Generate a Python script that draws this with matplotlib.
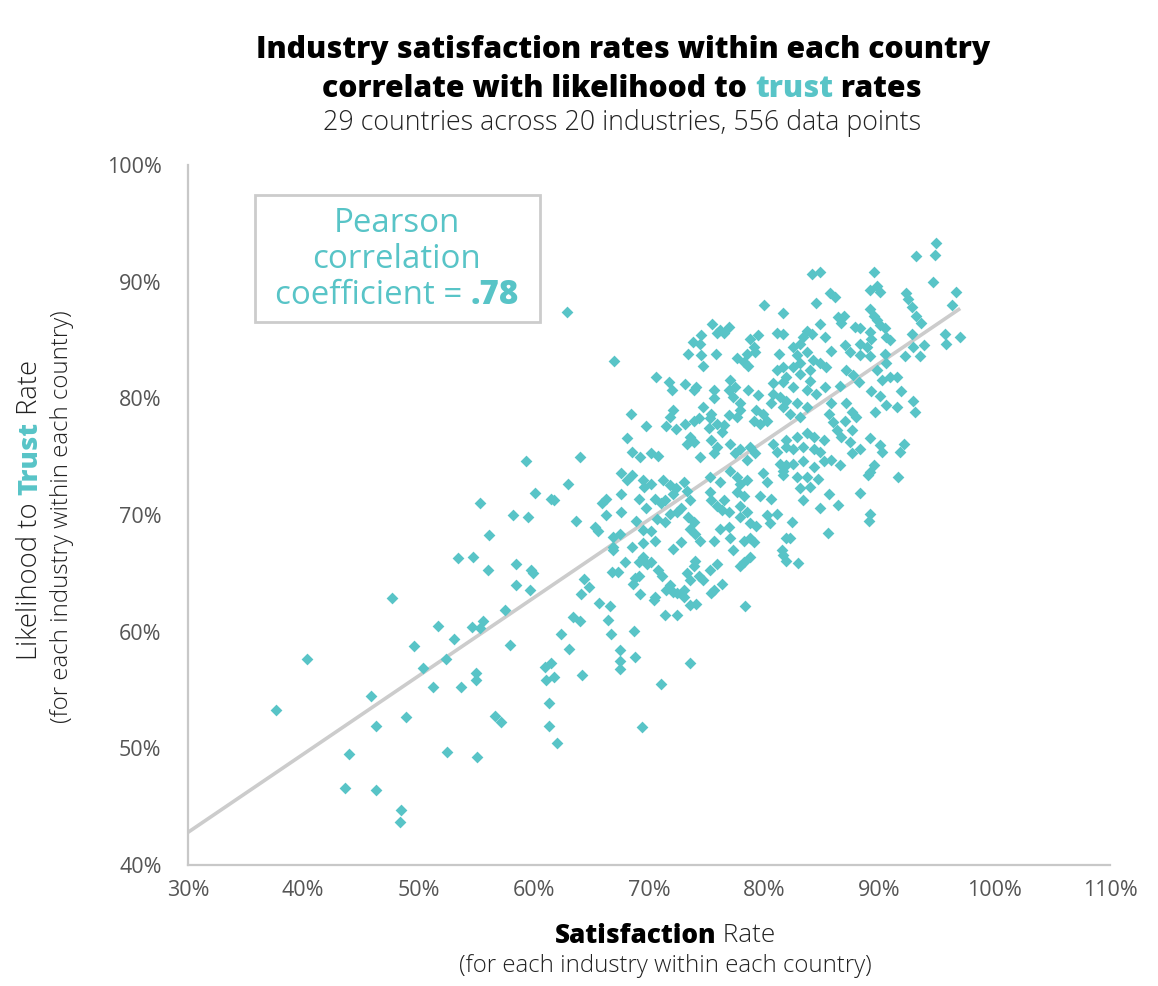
import matplotlib
matplotlib.use("Agg")
import matplotlib.pyplot as plt
from matplotlib.patches import Rectangle

# ---------------- data ----------------
sat = [
    # sparse lower-left region
    47.7, 40.3, 37.6, 51.7, 49.6, 53.1, 54.6, 55.6, 55.3, 56.0, 53.4, 54.7, 52.4, 50.4, 55.0,
    55.0, 51.3, 53.7, 45.9, 56.6, 46.3, 48.9, 44.0, 52.5, 55.1, 43.6, 46.3, 48.5, 48.4,
    # 55-70 upper
    62.9, 67.0, 68.4, 69.7, 68.1, 68.5, 69.2, 64.0, 59.3, 67.6, 68.5, 68.1, 69.5, 63.0, 60.1,
    61.5, 61.8, 55.3, 58.2, 59.5, 56.1, 67.6, 65.9, 66.3, 66.3, 67.6, 69.1, 68.9, 69.7, 63.7,
    65.3, 65.6, 66.9, 67.5, 66.9, 68.5, 69.5,
    # 55-70 lower
    58.5, 59.8, 59.9, 58.5, 59.7, 57.5, 57.9, 66.9, 67.9, 69.1, 69.8, 66.8, 67.3, 68.8, 69.1,
    68.6, 64.4, 64.8, 64.1, 65.7, 66.6, 69.2, 63.4, 64.0, 66.4, 62.4, 66.7, 68.7, 63.1, 67.5,
    68.8, 67.5, 67.5, 61.0, 61.5, 61.1, 61.8, 64.2, 61.3, 57.2, 61.3, 62.0, 69.4,
    # 70-82 upper
    80.0, 81.6, 75.5, 76.2, 76.9, 76.5, 75.9, 74.5, 73.8, 74.4, 73.4, 74.5, 74.7, 75.8, 78.8,
    79.5, 79.1, 78.5, 77.6, 78.2, 78.6, 79.2, 81.1, 81.6, 81.3, 81.6, 81.1, 70.6, 71.7, 72.0,
    73.1, 73.9, 74.1, 75.6, 75.6, 77.0, 77.5, 76.9, 77.3, 77.9, 77.9, 77.6, 78.6, 79.5, 80.8,
    81.6, 80.8, 81.4, 80.6, 81.6, 79.3, 79.9, 79.1, 79.6, 80.2, 74.7, 75.4, 72.1, 71.8, 71.5,
    72.3, 73.1, 73.9, 74.3, 75.3, 75.9, 75.2, 76.5, 76.9, 76.3, 73.6, 73.9, 73.3, 75.4, 75.9,
    75.6, 77.0, 77.9, 77.5, 78.8, 79.2, 80.8, 81.1, 81.9, 70.2, 70.8, 74.4,
    # 70-82 middle
    78.5, 81.4, 70.2, 69.6, 71.2, 71.8, 72.3, 72.1, 73.0, 73.3, 73.6, 75.3, 76.2, 77.0, 77.6,
    77.9, 78.5, 77.6, 78.2, 77.9, 79.9, 80.2, 79.6, 80.6, 81.9, 81.6, 70.5, 71.0, 71.4, 71.8,
    72.4, 71.4, 70.7, 72.8, 73.4, 73.9, 73.6, 74.0, 74.4, 75.3, 75.4, 75.9, 76.5, 76.3, 76.9,
    76.2, 76.9, 78.5, 78.8, 79.3, 77.9, 80.2, 80.5, 81.1, 81.9, 69.5, 70.2, 70.5, 72.1, 72.8,
    75.6, 77.0, 77.3, 78.2, 78.8, 79.1, 81.5, 81.9, 78.2, 78.8, 77.9, 75.9, 74.0, 73.9, 69.5,
    70.2, 70.8, 71.1, 73.3, 73.6, 74.3, 74.7, 75.3, 76.3, 75.6, 71.8, 71.5, 72.4, 73.0, 70.5,
    # 70-80 lower
    70.4, 72.1, 73.0, 73.6, 74.1, 71.4, 72.4, 75.4, 78.3, 73.6, 71.0,
    # 82-97 upper
    94.9, 94.8, 93.2, 94.6, 96.6, 96.3, 89.5, 84.1, 84.8, 89.2, 89.8, 90.0, 85.7, 86.1, 84.5,
    92.3, 92.5, 92.8, 93.2, 93.6, 89.2, 89.5, 89.8, 86.4, 86.9, 86.7, 84.8, 87.9, 88.3, 90.0,
    90.5, 83.7, 84.1, 83.4, 85.3, 89.2, 89.3, 90.6, 90.9, 92.8, 95.7, 97.0, 95.8, 93.9, 92.9,
    82.5, 83.1, 83.7, 82.8, 85.8, 87.0, 87.4, 88.3, 88.9, 88.3, 89.2, 90.5, 92.2, 93.5, 84.2,
    84.8, 85.4, 84.0, 83.1, 82.5, 87.1, 87.7, 89.8, 90.6, 90.9, 91.5,
    # 82-93 middle
    81.9, 83.1, 84.0, 82.5, 83.7, 84.5, 85.3, 86.6, 88.2, 90.2, 91.9, 92.9, 93.1, 91.5, 90.6,
    89.3, 90.0, 89.6, 81.9, 82.8, 83.7, 82.2, 83.1, 85.8, 85.6, 87.1, 87.6, 88.0, 87.0, 86.0,
    86.3, 86.7, 87.6, 87.4, 88.3, 87.6, 89.2, 90.0, 90.2, 92.1, 91.8, 81.9, 82.8, 83.7, 84.3,
    82.5, 83.4, 84.3, 85.2, 84.8, 82.5, 83.4, 84.3, 85.2, 85.8, 86.6, 89.5, 89.0, 89.2, 91.6,
    81.6, 82.8, 83.7, 84.7, 83.1, 84.0, 85.6, 88.3,
    # 81-90 lower
    83.4, 84.8, 86.4, 89.2, 89.1, 82.4, 85.5, 82.2, 81.6, 82.9,
]
trust = [
    62.9, 57.7, 53.3, 60.5, 58.8, 59.4, 60.4, 60.9, 60.3, 65.3, 66.3, 66.4, 57.7, 56.9, 56.5,
    55.9, 55.3, 55.3, 54.5, 52.8, 51.9, 52.7, 49.5, 49.7, 49.3, 46.6, 46.4, 44.7, 43.7,
    87.4, 83.2, 78.7, 77.6, 76.6, 75.4, 75.0, 75.0, 74.6, 73.6, 73.4, 73.0, 73.0, 72.7, 71.9,
    71.4, 71.3, 71.0, 70.0, 69.8, 68.3, 71.8, 71.0, 71.4, 70.0, 70.3, 71.4, 69.5, 70.6, 69.5,
    69.0, 68.6, 68.1, 68.4, 67.3, 67.3, 67.6,
    65.8, 65.3, 65.0, 64.0, 63.6, 61.9, 58.9, 67.0, 66.0, 66.0, 65.8, 65.1, 65.1, 64.6, 64.8,
    64.1, 64.5, 63.8, 63.2, 62.5, 62.2, 63.2, 61.3, 60.9, 61.0, 59.8, 59.8, 60.1, 58.5, 58.4,
    57.8, 57.5, 56.8, 57.0, 57.3, 55.9, 56.1, 56.3, 53.9, 52.3, 51.9, 50.5, 51.8,
    88.0, 87.3, 86.4, 85.9, 86.1, 85.6, 85.6, 85.4, 84.8, 84.7, 83.8, 83.7, 82.8, 83.8, 85.1,
    85.4, 84.4, 83.8, 83.5, 83.1, 82.8, 84.0, 85.6, 85.5, 83.8, 82.7, 82.4, 81.8, 81.4, 80.7,
    81.2, 80.7, 81.0, 80.7, 80.0, 81.6, 81.0, 80.7, 80.1, 79.6, 79.0, 78.4, 80.7, 80.3, 81.3,
    81.4, 80.4, 80.1, 79.6, 79.3, 79.0, 78.7, 78.1, 77.8, 78.1, 79.3, 78.7, 79.0, 78.4, 77.6,
    77.4, 77.8, 78.1, 78.3, 78.3, 77.8, 77.5, 77.7, 78.6, 77.1, 76.7, 76.3, 76.1, 76.4, 75.8,
    75.3, 76.1, 75.7, 75.3, 75.8, 75.3, 76.1, 75.4, 75.8, 75.3, 75.1, 75.0,
    74.7, 74.4, 72.7, 72.4, 73.0, 72.6, 72.3, 71.8, 72.8, 72.1, 71.3, 73.3, 72.8, 73.8, 73.3,
    72.7, 73.0, 72.0, 71.6, 70.8, 73.6, 72.8, 71.6, 71.4, 74.3, 73.4, 71.4, 71.0, 71.3, 70.1,
    70.3, 69.4, 69.7, 70.6, 69.8, 69.4, 68.8, 68.4, 67.8, 72.0, 71.3, 70.8, 71.3, 70.4, 70.3,
    68.8, 69.0, 70.3, 69.3, 69.1, 69.8, 70.0, 69.3, 70.1, 68.0, 68.7, 68.6, 67.8, 67.1, 67.7,
    67.8, 68.0, 67.0, 67.8, 68.0, 67.7, 67.0, 66.1, 66.0, 66.4, 65.6, 65.8, 66.1, 65.6, 66.4,
    66.0, 65.3, 64.8, 65.0, 64.4, 64.8, 64.4, 65.3, 64.1, 63.6, 64.0, 63.6, 63.3, 63.6, 63.0,
    62.7, 63.4, 63.0, 62.3, 62.4, 61.4, 61.4, 63.3, 62.2, 57.3, 55.5,
    93.3, 92.3, 92.2, 90.0, 89.1, 88.0, 90.8, 90.7, 90.8, 89.3, 89.6, 89.1, 89.0, 88.7, 88.2,
    89.0, 88.5, 87.8, 87.1, 86.5, 87.7, 87.1, 86.7, 87.0, 87.1, 86.5, 86.4, 86.1, 86.0, 86.3,
    86.0, 85.8, 85.5, 85.3, 85.3, 85.7, 85.1, 85.3, 85.0, 85.5, 85.5, 85.3, 84.7, 84.6, 84.4,
    84.4, 84.7, 84.0, 83.7, 84.1, 84.6, 84.0, 84.7, 84.4, 83.7, 83.6, 83.8, 83.6, 83.6, 83.3,
    83.0, 82.7, 82.4, 83.0, 82.7, 82.4, 82.0, 82.4, 83.0, 81.8, 81.8,
    81.8, 82.1, 81.5, 81.0, 80.7, 80.4, 81.0, 81.1, 81.4, 81.6, 80.6, 79.8, 78.8, 79.3, 79.4,
    80.6, 80.2, 78.8, 79.8, 79.6, 79.3, 78.7, 78.4, 79.6, 78.7, 79.6, 78.8, 78.4, 78.1, 78.0,
    77.3, 76.7, 77.3, 76.3, 75.7, 75.3, 76.6, 76.0, 75.4, 76.1, 75.4, 76.4, 76.7, 77.0, 76.7,
    75.7, 75.8, 75.7, 76.4, 75.4, 74.4, 74.6, 74.1, 74.6, 74.7, 74.3, 74.3, 73.4, 73.7, 73.3,
    73.8, 73.3, 73.3, 73.1, 72.3, 72.4, 71.8, 71.9,
    71.3, 70.6, 70.9, 70.1, 69.5, 69.4, 68.5, 68.0, 66.6, 65.9,
]

# fitted trend line (endpoints)
trend_x = [30, 97]
trend_y = [42.8, 87.7]

x_ticks = [30, 40, 50, 60, 70, 80, 90, 100, 110]
y_ticks = [40, 50, 60, 70, 80, 90, 100]

TEAL = "#58C4C7"
GRAY_TXT = "#555555"
DARK = "#222222"
FONT = "Open Sans"

fig = plt.figure(figsize=(11.58, 9.86), dpi=100)
ax = fig.add_axes([188 / 1158, 1 - 865 / 986, 922 / 1158, 700 / 986])

ax.plot(trend_x, trend_y, color="#cccccc", lw=2.6, zorder=1, solid_capstyle="butt")
ax.scatter(sat, trust, marker="D", s=36, color=TEAL, linewidths=0, zorder=2)

ax.set_xlim(30, 110)
ax.set_ylim(40, 100)
ax.set_xticks(x_ticks)
ax.set_yticks(y_ticks)
ax.set_xticklabels([f"{v}%" for v in x_ticks], fontfamily=FONT)
ax.set_yticklabels([f"{v}%" for v in y_ticks], fontfamily=FONT)
ax.tick_params(axis="both", length=0, labelsize=15.5, labelcolor=GRAY_TXT)
ax.tick_params(axis="x", pad=11)
ax.tick_params(axis="y", pad=19)
for s in ["top", "right"]:
    ax.spines[s].set_visible(False)
for s in ["left", "bottom"]:
    ax.spines[s].set_color("#c8c8c8")
    ax.spines[s].set_linewidth(1.6)

# Pearson box
ax.add_patch(Rectangle((0.0727, 0.7757), 0.3091, 0.1813, transform=ax.transAxes,
                       fill=False, edgecolor="#cccccc", lw=2, zorder=3))

fig.canvas.draw()
renderer = fig.canvas.get_renderer()


def _make(pieces, size):
    texts, widths = [], []
    for s, c, w in pieces:
        t = fig.text(0, 0, s, fontsize=size, color=c, fontweight=w, fontfamily=FONT,
                     ha="left", va="center")
        widths.append(t.get_window_extent(renderer).width)
        texts.append(t)
    return texts, widths


def rich(x, y, pieces, size, rotation=0, target=None):
    """pieces: list of (text, color, weight); centred at figure coords (x, y).
    If target (pixels) is given, the font size is scaled so the line has that length."""
    texts, widths = _make(pieces, size)
    if target is not None:
        size = size * target / sum(widths)
        for t in texts:
            t.remove()
        texts, widths = _make(pieces, size)
    total = sum(widths)
    px, py = fig.transFigure.transform((x, y))
    inv = fig.transFigure.inverted()
    if rotation == 0:
        cur = px - total / 2
        for t, w in zip(texts, widths):
            t.set_position(inv.transform((cur, py)))
            cur += w
    else:
        cur = py - total / 2
        for t, w in zip(texts, widths):
            t.set_rotation(90)
            t.set_ha("center")
            t.set_va("bottom")
            t.set_position(inv.transform((px, cur)))
            cur += w
    return size


def fx(p):
    return p / 1158


def fy(p):
    return 1 - p / 986


# Title
ts = rich(fx(623), fy(50), [("Industry satisfaction rates within each country", "black", "heavy")],
          20, target=734)
rich(fx(622), fy(89), [("correlate with likelihood to ", "black", "heavy"),
                       ("trust", TEAL, "heavy"), (" rates", "black", "heavy")], ts)
rich(fx(622), fy(123), [("29 countries across 20 industries, 556 data points", DARK, "light")],
     16, target=600)

# Pearson box text
ps = rich(fx(397), fy(295), [("coefficient = ", TEAL, "normal"), (".78", TEAL, "heavy")],
          18, target=244)
rich(fx(397), fy(223), [("Pearson", TEAL, "normal")], ps)
rich(fx(397), fy(260), [("correlation", TEAL, "normal")], ps)

# X label
rich(fx(665), fy(936), [("Satisfaction", "black", "heavy"), (" Rate", DARK, "light")], 17,
     target=221)
rich(fx(665), fy(966), [("(for each industry within each country)", DARK, "light")], 15,
     target=416)

# Y label
rich(fx(30), fy(510), [("Likelihood to ", DARK, "light"), ("Trust", TEAL, "heavy"),
                       (" Rate", DARK, "light")], 17, rotation=90, target=300)
rich(fx(62), fy(517), [("(for each industry within each country)", DARK, "light")], 15,
     rotation=90, target=415)

fig.savefig("out.png", dpi=100)
